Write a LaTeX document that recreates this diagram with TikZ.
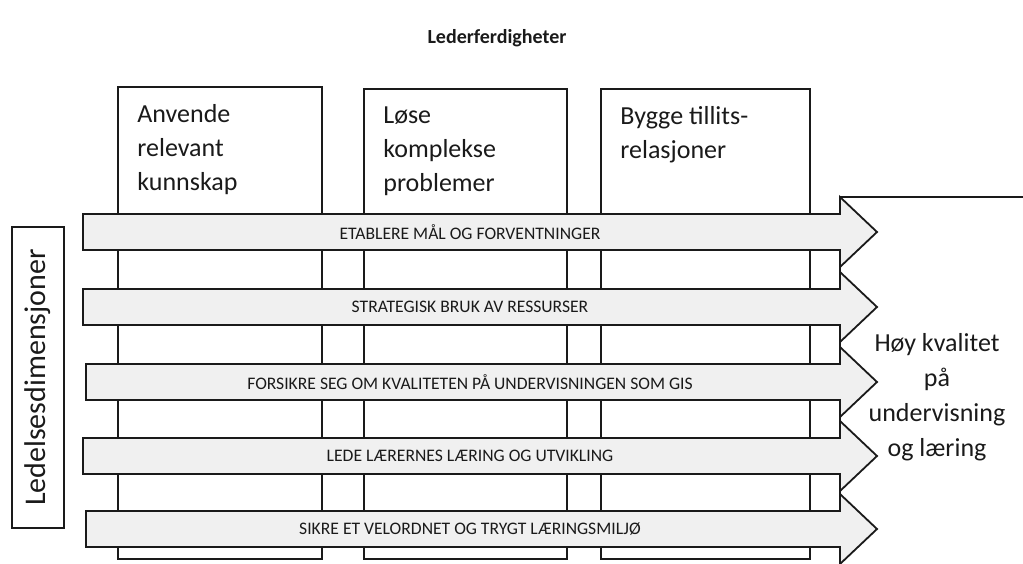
\documentclass[tikz,border=0pt]{standalone}
\usepackage{fontspec}
\setmainfont{Carlito}
\usepackage{tikz}
\usetikzlibrary{positioning}
\definecolor{band}{HTML}{F0F0F0}
\definecolor{ink}{HTML}{1A1A1A}

\begin{document}
\begin{tikzpicture}[x=0.5pt,y=-0.5pt, line join=miter,
  colbox/.style={draw=ink,fill=white,line width=0.9pt},
  boxtxt/.style={anchor=north west,inner sep=0pt,align=left,font=\fontsize{13}{17}\selectfont,color=ink},
  dimarrow/.style={draw=ink,fill=band,line width=0.9pt},
  dimtxt/.style={inner sep=0pt,font=\fontsize{8.8}{10}\selectfont,color=ink}]
  \useasboundingbox (0,0) rectangle (1023,563);
  \node[font=\bfseries\fontsize{10}{12}\selectfont,color=ink] (title) at (497,38) {Lederferdigheter};
  % skill columns
  \foreach \n/\l/\r/\t/\txt in {1/118/322/87/{Anvende\\relevant\\kunnskap},
      2/364/567/89/{Løse\\komplekse\\problemer},
      3/601/810/89/{Bygge tillits-\\relasjoner}}{
    \draw[colbox] (\l,\t) rectangle (\r,559);
    \node[boxtxt] (s\n) at (\l+19,\t+17) {\txt};
  }
  % outcome box
  \draw[ink,line width=0.9pt] (840,563) -- (840,197) -- (1023,197);
  \node[align=center,font=\fontsize{13}{17.5}\selectfont,color=ink] (goal) at (937,397)
    {Høy kvalitet\\på\\undervisning\\og læring};
  % dimension label
  \node[draw=ink,line width=0.9pt,rotate=90,minimum width=150.5pt,minimum height=26pt,
    inner sep=0pt,font=\fontsize{15}{18}\selectfont,color=ink] (dims) at (38,377.5) {Ledelsesdimensjoner};
  % dimension arrows
  \foreach \i/\y/\l/\txt in {1/232/83/ETABLERE MÅL OG FORVENTNINGER,
      2/307/83/STRATEGISK BRUK AV RESSURSER,
      3/382/86/FORSIKRE SEG OM KVALITETEN PÅ UNDERVISNINGEN SOM GIS,
      4/456/83/LEDE LÆRERNES LÆRING OG UTVIKLING,
      5/529/86/SIKRE ET VELORDNET OG TRYGT LÆRINGSMILJØ}{
    \draw[dimarrow] (\l,\y-18) -- (840,\y-18) -- (840,\y-35) -- (877,\y)
      -- (840,\y+35) -- (840,\y+18) -- (\l,\y+18) -- cycle;
    \node[dimtxt] (d\i) at (470,\y) {\txt};
  }
\end{tikzpicture}
\end{document}
